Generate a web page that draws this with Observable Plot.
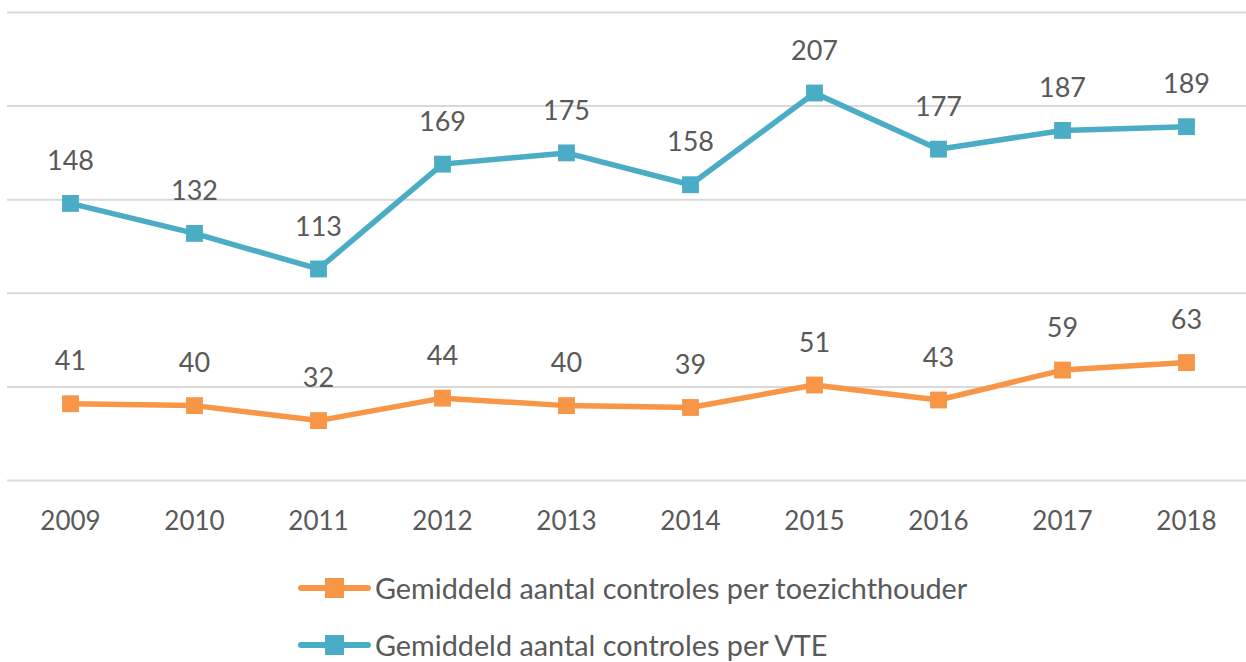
<!DOCTYPE html>
<html>
<head>
<meta charset="utf-8">
<script src="https://cdn.jsdelivr.net/npm/d3@7"></script>
<script src="https://cdn.jsdelivr.net/npm/@observablehq/plot@0.6"></script>
<style>
  html, body { margin: 0; padding: 0; background: #fff; overflow: hidden; }
  #wrap { position: relative; width: 1246px; height: 662px; font-family: Lato, "Open Sans", sans-serif; }
  .leg { position: absolute; left: 298px; display: flex; align-items: center; color: #595959; font-size: 28.8px; white-space: nowrap; }
  .leg svg { margin-right: 4px; }
</style>
</head>
<body>
<div id="wrap"></div>
<script>
const years = ["2009","2010","2011","2012","2013","2014","2015","2016","2017","2018"];
const toezichthouder = [41, 40, 32, 44, 40, 39, 51, 43, 59, 63];
const vte = [148, 132, 113, 169, 175, 158, 207, 177, 187, 189];
const gridTicks = [0, 50, 100, 150, 200, 250];
const seriesNames = ["Gemiddeld aantal controles per toezichthouder", "Gemiddeld aantal controles per VTE"];
const seriesColors = ["#F79646", "#4BACC6"];

const rows = [];
years.forEach((y, i) => {
  rows.push({year: y, value: toezichthouder[i], series: seriesNames[0]});
  rows.push({year: y, value: vte[i], series: seriesNames[1]});
});

const chart = Plot.plot({
  width: 1246,
  height: 545,
  marginTop: 12,
  marginBottom: 65,
  marginLeft: 7,
  marginRight: 0,
  style: {fontFamily: "Lato, 'Open Sans', sans-serif", color: "#595959", background: "#fff"},
  x: {type: "point", domain: years, range: [69, 1187], padding: 0},
  y: {domain: [0, 250], axis: null},
  color: {domain: seriesNames, range: seriesColors},
  marks: [
    Plot.ruleY(gridTicks, {stroke: "#D9D9D9", strokeWidth: 2}),
    Plot.axisX({tickSize: 0, tickPadding: 31, fontSize: 26, fill: "#595959", label: null}),
    Plot.line(rows, {x: "year", y: "value", z: "series", stroke: "series", strokeWidth: 5.5, strokeLinejoin: "round"}),
    Plot.dot(rows, {x: "year", y: "value", fill: "series", symbol: "square", r: 9.5}),
    Plot.text(rows, {x: "year", y: "value", text: d => String(d.value), dy: -42, fontSize: 27, fill: "#595959"})
  ]
});

const wrap = document.getElementById("wrap");
wrap.appendChild(chart);

seriesNames.forEach((name, i) => {
  const div = document.createElement("div");
  div.className = "leg";
  div.style.top = (i === 0 ? 588 : 645) - 18 + "px";
  div.style.height = "36px";
  const c = seriesColors[i];
  div.innerHTML = `<svg width="73" height="22"><line x1="3" x2="70" y1="11" y2="11" stroke="${c}" stroke-width="6" stroke-linecap="round"/><rect x="27" y="1" width="19" height="20" fill="${c}"/></svg><span>${name}</span>`;
  wrap.appendChild(div);
});
</script>
</body>
</html>
